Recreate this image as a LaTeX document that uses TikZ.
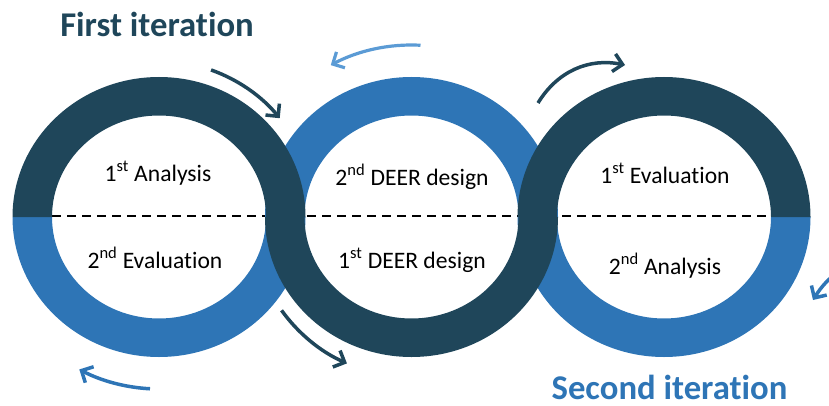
\documentclass[tikz,border=0pt]{standalone}
\usepackage{fontspec}
\setmainfont{Carlito}[Ligatures={NoCommon}]
\usetikzlibrary{arrows.meta}
\definecolor{ringdark}{RGB}{31,70,90}
\definecolor{ringblue}{RGB}{46,117,182}
\definecolor{arrowlight}{RGB}{91,155,213}
\newcommand\ringhalf[3]{\fill[#3] (#1) ++(146.5pt,0pt) arc[start angle=0,end angle=#2,x radius=146.5pt,y radius=140pt] -- ++(39.5pt,0pt) arc[start angle=#2,end angle=0,x radius=107pt,y radius=101.5pt] -- cycle;}
\begin{document}
\begin{tikzpicture}[x=1pt,y=1pt,
  darkarrow/.style={draw=ringdark,line width=3.5pt,-{Straight Barb[length=9pt,width=18pt]}},
  bluearrow/.style={draw=ringblue,line width=3.5pt,-{Straight Barb[length=9pt,width=18pt]}},
  lightarrow/.style={draw=arrowlight,line width=3.2pt,-{Straight Barb[length=9pt,width=18pt]}},
  label/.style={font=\fontsize{23.6}{28}\selectfont, anchor=base, inner sep=0pt},
  title/.style={font=\bfseries\fontsize{34.7}{40}\selectfont, anchor=base, inner sep=0pt},
  divider/.style={draw=black, line width=2.8pt, dash pattern=on 9pt off 6pt}
]
\useasboundingbox (0,0) rectangle (829,405);
\clip (0,0) rectangle (829,405);
\coordinate (L) at (159,188);
\coordinate (M) at (411.5,188);
\coordinate (R) at (664,188);
\coordinate (dl) at (52,189);
\coordinate (dr) at (772,189);
% dashed divider (beneath the rings)
\draw[divider] (dl) -- (dr);
% blue halves
\ringhalf{L}{-180}{ringblue}
\ringhalf{M}{180}{ringblue}
\ringhalf{R}{-180}{ringblue}
% dark halves
\ringhalf{L}{180}{ringdark}
\ringhalf{M}{-180}{ringdark}
\ringhalf{R}{180}{ringdark}
% labels
\node[label] (a1) at (158,224) {1\textsuperscript{st} Analysis};
\node[label] (e2) at (155,137) {2\textsuperscript{nd} Evaluation};
\node[label] (d2) at (412,220) {2\textsuperscript{nd} DEER design};
\node[label] (d1) at (412,137) {1\textsuperscript{st} DEER design};
\node[label] (e1) at (665,222) {1\textsuperscript{st} Evaluation};
\node[label] (a2) at (665,131) {2\textsuperscript{nd} Analysis};
% titles
\node[title, text=ringdark] (t1) at (157,368) {First iteration};
\node[title, text=ringblue] (t2) at (669.5,6) {Second iteration};
% arrows
\draw[darkarrow] (L) ++(70.5:156pt) arc[start angle=70.5,end angle=39.3,radius=156pt];
\draw[lightarrow] (M) ++(87:172pt) arc[start angle=87,end angle=118,radius=172pt];
\coordinate (a3s) at (538,302);
\coordinate (a3e) at (625,340);
\draw[darkarrow] (a3s) to[bend left=35] (a3e);
\draw[darkarrow] (M) ++(215.7:160pt) arc[start angle=215.7,end angle=246.2,radius=160pt];
\draw[bluearrow] (L) ++(267:172pt) arc[start angle=267,end angle=242.4,radius=172pt];
\coordinate (a6s) at (840,135);
\coordinate (a6e) at (813,105);
\draw[bluearrow] (a6s) to[bend right=10] (a6e);
\end{tikzpicture}
\end{document}
